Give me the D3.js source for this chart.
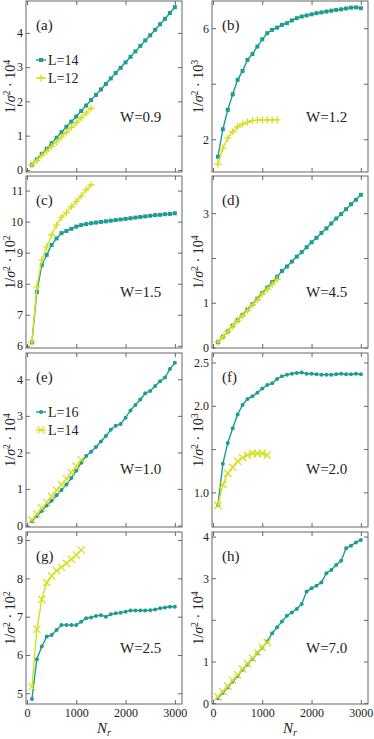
<!DOCTYPE html>
<html>
<head>
<meta charset="utf-8">
<script src="https://cdn.jsdelivr.net/npm/d3@7"></script>
<style>
  body { margin: 0; background: #fff; }
  svg { display: block; }
  svg text { font-family: "Liberation Serif", "DejaVu Serif", serif; }
</style>
</head>
<body>
<svg id="chart" width="374" height="739"></svg>
<script>
// N_r values
const nrLong = [100,200,300,400,500,600,700,800,900,1000,1100,1200,1300,1400,1500,1600,1700,1800,1900,2000,2100,2200,2300,2400,2500,2600,2700,2800,2900,3000];
const nr13 = [100,200,300,400,500,600,700,800,900,1000,1100,1200,1300];
const nr11 = [100,200,300,400,500,600,700,800,900,1000,1100];

// top four panels: L=14 (teal) and L=12 (yellow)
const aL14 = [0.15,0.31,0.47,0.62,0.78,0.94,1.10,1.26,1.41,1.56,1.72,1.88,2.04,2.19,2.35,2.51,2.67,2.83,2.98,3.14,3.30,3.46,3.62,3.78,3.93,4.09,4.25,4.41,4.58,4.75];
const aL12 = [0.15,0.28,0.42,0.55,0.69,0.82,0.96,1.10,1.24,1.38,1.52,1.66,1.80];
const bL14 = [1.37,2.36,3.06,3.62,4.14,4.46,4.86,5.07,5.34,5.60,5.82,5.94,6.02,6.12,6.18,6.28,6.36,6.42,6.46,6.50,6.54,6.57,6.60,6.63,6.66,6.68,6.71,6.74,6.75,6.72];
const bL12 = [1.10,1.68,2.04,2.27,2.45,2.55,2.62,2.67,2.69,2.70,2.70,2.70,2.70];
const cL14 = [6.11,7.74,8.60,8.93,9.25,9.46,9.63,9.70,9.77,9.84,9.89,9.92,9.95,9.97,9.99,10.01,10.03,10.05,10.07,10.09,10.11,10.13,10.15,10.17,10.19,10.21,10.22,10.24,10.25,10.27];
const cL12 = [6.12,7.90,8.76,9.19,9.57,9.89,10.14,10.29,10.48,10.65,10.83,11.02,11.18];
const dL14 = [0.12,0.24,0.36,0.49,0.61,0.73,0.85,0.97,1.09,1.22,1.34,1.46,1.58,1.71,1.81,1.92,2.03,2.13,2.24,2.35,2.45,2.56,2.66,2.77,2.88,2.98,3.09,3.20,3.30,3.41];
const dL12 = [0.12,0.24,0.36,0.48,0.60,0.71,0.83,0.95,1.07,1.19,1.30,1.41,1.52];

// bottom four panels: L=16 (teal) and L=14 (yellow)
const eL16 = [0.12,0.26,0.40,0.55,0.68,0.83,0.97,1.12,1.30,1.50,1.72,1.90,2.02,2.15,2.30,2.45,2.62,2.73,2.78,2.95,3.15,3.30,3.45,3.62,3.68,3.82,3.95,4.05,4.28,4.45];
const eL14 = [0.15,0.32,0.48,0.63,0.80,0.97,1.12,1.28,1.45,1.62,1.80];
const fL16 = [0.85,1.33,1.57,1.74,1.90,2.01,2.08,2.11,2.15,2.20,2.24,2.26,2.31,2.34,2.36,2.37,2.38,2.385,2.37,2.37,2.365,2.36,2.36,2.36,2.365,2.37,2.365,2.365,2.37,2.365];
const fL14 = [0.85,1.09,1.22,1.29,1.36,1.40,1.43,1.45,1.45,1.45,1.43];
const gL16 = [4.85,5.89,6.22,6.48,6.52,6.65,6.78,6.78,6.78,6.78,6.87,6.96,6.98,7.02,7.04,7.00,7.06,7.09,7.10,7.13,7.16,7.16,7.16,7.16,7.17,7.19,7.22,7.24,7.26,7.26];
const gL14 = [5.17,6.67,7.45,7.89,8.06,8.20,8.29,8.39,8.50,8.61,8.74];
const hL16 = [0.12,0.25,0.38,0.52,0.65,0.80,0.93,1.06,1.20,1.33,1.48,1.68,1.82,1.96,2.10,2.18,2.26,2.38,2.68,2.76,2.82,2.90,3.12,3.20,3.32,3.42,3.72,3.78,3.86,3.92];
const hL14 = [0.15,0.28,0.41,0.55,0.68,0.82,0.95,1.08,1.21,1.34,1.46];

// axis ticks
const xTicks = [0, 1000, 2000, 3000];
const panelTags = ["(a)","(b)","(c)","(d)","(e)","(f)","(g)","(h)"];
const wLabels = ["W=0.9","W=1.2","W=1.5","W=4.5","W=1.0","W=2.0","W=2.5","W=7.0"];
const exponents = ["4","3","2","4","4","3","2","4"];
const yTicks = [[0,1,2,3,4],[2,4,6],[6,7,8,9,10,11],[0,1,2,3],[0,1,2,3,4],[1.0,1.5,2.0,2.5],[5,6,7,8,9],[0,1,2,3,4]];
const yShown = [[0,1,2,3,4],[2,6],[6,7,8,9,10,11],[0,1,3],[0,1,2,3,4],[1.0,2.0,2.5],[5,6,7,8,9],[0,1,3,4]];
const yDomains = [[-0.06,4.93],[0.82,6.98],[5.93,11.47],[-0.01,3.83],[-0.04,4.72],[0.60,2.61],[4.72,9.21],[-0.02,4.11]];
const legendTop = ["L=14","L=12"];
const legendBottom = ["L=16","L=14"];

const teal = "#1d9c94";
const yellow = "#d5e01f";
const frame = "#666";
const ink = "#222";

const svg = d3.select("#chart");
const cols = [[26, 182], [212, 368]];
const rows = [[1, 172], [176, 348], [353, 527], [532, 704]];

const tealSeries = [aL14, bL14, cL14, dL14, eL16, fL16, gL16, hL16];
const yellowSeries = [aL12, bL12, cL12, dL12, eL14, fL14, gL14, hL14];

// marker shapes: "+" for the top half, "x" for the bottom half
function crossPath(cx, cy, s, diag) {
    return diag
        ? `M${cx - s},${cy - s}L${cx + s},${cy + s}M${cx - s},${cy + s}L${cx + s},${cy - s}`
        : `M${cx - s},${cy}L${cx + s},${cy}M${cx},${cy - s}L${cx},${cy + s}`;
}

panelTags.forEach((tag, i) => {
    const col = cols[i % 2], row = rows[Math.floor(i / 2)];
    const bottomHalf = i >= 4;
    const x = d3.scaleLinear().domain([-20, 3145]).range(col);
    const y = d3.scaleLinear().domain(yDomains[i]).range([row[1], row[0]]);
    const g = svg.append("g");

    const tealPts = nrLong.map((n, k) => [n, tealSeries[i][k]]);
    const yNr = bottomHalf ? nr11 : nr13;
    const yelPts = yNr.map((n, k) => [n, yellowSeries[i][k]]);
    const line = d3.line().x(d => x(d[0])).y(d => y(d[1]));

    // teal series
    g.append("path").datum(tealPts).attr("d", line)
        .attr("fill", "none").attr("stroke", teal).attr("stroke-width", 1.4);
    if (bottomHalf) {
        g.selectAll(null).data(tealPts).join("circle")
            .attr("cx", d => x(d[0])).attr("cy", d => y(d[1])).attr("r", 2)
            .attr("fill", teal);
    } else {
        g.selectAll(null).data(tealPts).join("rect")
            .attr("x", d => x(d[0]) - 2).attr("y", d => y(d[1]) - 2)
            .attr("width", 4).attr("height", 4).attr("fill", teal);
    }

    // yellow series
    g.append("path").datum(yelPts).attr("d", line)
        .attr("fill", "none").attr("stroke", yellow).attr("stroke-width", 1.4);
    g.selectAll(null).data(yelPts).join("path")
        .attr("d", d => crossPath(x(d[0]), y(d[1]), 3.6, bottomHalf))
        .attr("stroke", yellow).attr("stroke-width", 1.3).attr("fill", "none");

    // axes with inward ticks on all four sides
    const ax = svg.append("g");
    ax.append("g").attr("transform", `translate(${col[0]},0)`)
        .call(d3.axisLeft(y).tickValues(yTicks[i]).tickSize(-4).tickPadding(3)
            .tickFormat(v => yShown[i].includes(v) ? (i === 5 ? d3.format(".1f")(v) : v) : ""));
    ax.append("g").attr("transform", `translate(${col[1]},0)`)
        .call(d3.axisRight(y).tickValues(yTicks[i]).tickSize(-4).tickFormat(""));
    ax.append("g").attr("transform", `translate(0,${row[1]})`)
        .call(d3.axisBottom(x).tickValues(xTicks).tickSize(-4).tickPadding(4)
            .tickFormat(i >= 6 ? d3.format("d") : () => ""));
    ax.append("g").attr("transform", `translate(0,${row[0]})`)
        .call(d3.axisTop(x).tickValues(xTicks).tickSize(-4).tickFormat(""));
    ax.selectAll(".domain").remove();
    ax.selectAll(".tick line").attr("stroke", frame);
    ax.selectAll(".tick text").attr("font-size", 12).attr("fill", ink)
        .attr("font-family", null);
    ax.append("rect").attr("x", col[0]).attr("y", row[0])
        .attr("width", col[1] - col[0]).attr("height", row[1] - row[0])
        .attr("fill", "none").attr("stroke", frame).attr("stroke-width", 1);

    // y-axis label (rotated)
    const lx = i % 2 === 0 ? 15 : 203;
    const ly = (row[0] + row[1]) / 2;
    const yl = svg.append("text").attr("transform", `translate(${lx},${ly}) rotate(-90)`)
        .attr("text-anchor", "middle").attr("font-size", 14).attr("fill", ink);
    yl.append("tspan").text("1/");
    yl.append("tspan").attr("font-style", "italic").text("σ");
    yl.append("tspan").attr("dy", -5).attr("font-size", 10).text("2");
    yl.append("tspan").attr("dy", 5).text(" · 10");
    yl.append("tspan").attr("dy", -5).attr("font-size", 10).text(exponents[i]);

    // panel tag and W label
    svg.append("text").attr("x", col[0] + 10).attr("y", row[0] + 29)
        .attr("font-size", 15).attr("fill", ink).text(tag);
    svg.append("text").attr("x", col[0] + 94).attr("y", row[0] + 121)
        .attr("font-size", 15).attr("fill", ink).text(wLabels[i]);

    // x-axis title on the bottom row
    if (i >= 6) {
        const t = svg.append("text").attr("x", (col[0] + col[1]) / 2).attr("y", 733)
            .attr("text-anchor", "middle").attr("font-size", 15).attr("fill", ink);
        t.append("tspan").attr("font-style", "italic").text("N");
        t.append("tspan").attr("font-style", "italic").attr("font-size", 10).attr("dy", 3).text("r");
    }

    // legends in panels (a) and (e)
    if (i === 0 || i === 4) {
        const names = i === 0 ? legendTop : legendBottom;
        const ys = [row[0] + 59, row[0] + 77];
        names.forEach((nm, k) => {
            const c = k === 0 ? teal : yellow;
            const cy = ys[k], cx = col[0] + 15;
            svg.append("line").attr("x1", cx - 5).attr("x2", cx + 5).attr("y1", cy).attr("y2", cy)
                .attr("stroke", c).attr("stroke-width", 1.4);
            if (k === 0) {
                if (i === 0) svg.append("rect").attr("x", cx - 2).attr("y", cy - 2).attr("width", 4).attr("height", 4).attr("fill", c);
                else svg.append("circle").attr("cx", cx).attr("cy", cy).attr("r", 2).attr("fill", c);
            } else {
                svg.append("path").attr("d", crossPath(cx, cy, 3.6, i === 4))
                    .attr("stroke", c).attr("stroke-width", 1.3);
            }
            svg.append("text").attr("x", cx + 7).attr("y", cy + 5).attr("font-size", 14)
                .attr("fill", ink).text(nm);
        });
    }
});
</script>
</body>
</html>
